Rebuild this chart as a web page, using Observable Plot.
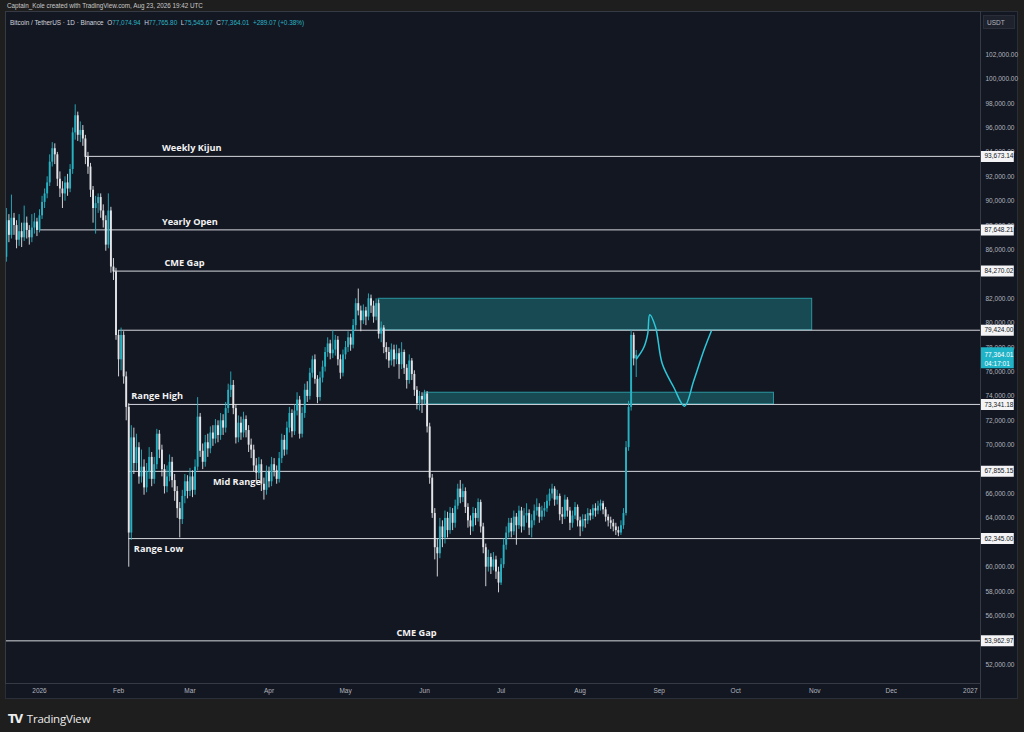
<!DOCTYPE html>
<html><head><meta charset="utf-8">
<script src="https://cdn.jsdelivr.net/npm/d3@7"></script>
<script src="https://cdn.jsdelivr.net/npm/@observablehq/plot@0.6"></script>
<style>
html,body{margin:0;padding:0;background:#1e1e1e;}
#wrap{position:relative;width:1024px;height:732px;overflow:hidden;font-family:"Liberation Sans","DejaVu Sans",sans-serif;}
#credit{position:absolute;left:7px;top:2px;font-size:6.3px;color:#c9c9c9;white-space:nowrap;}
#panel{position:absolute;left:5px;top:11px;width:1013px;height:688px;background:#131722;border:1px solid #2a2e39;box-sizing:border-box;}
#header{position:absolute;left:10px;top:19px;font-size:6.4px;color:#d1d4dc;white-space:nowrap;}
#header .v{color:#2ab3c4;}
#usdt{position:absolute;left:983px;top:15px;width:32px;height:14px;background:#1e222d;border:1px solid #2a2e39;box-sizing:border-box;font-size:6.5px;color:#b2b5be;line-height:13px;padding-left:3px;}
#chart{position:absolute;left:0;top:0;}
#vsep{position:absolute;left:980px;top:683px;width:1px;height:16px;background:#363a45;}
#logo{position:absolute;left:8px;top:709px;color:#ececec;white-space:nowrap;}
#logo .tv{font-family:"DejaVu Sans";font-weight:900;font-size:11.5px;letter-spacing:-1.5px;margin-right:5px;}
#logo .tx{font-family:"Open Sans";font-weight:500;font-size:11.5px;letter-spacing:-0.2px;}
</style></head>
<body>
<div id="wrap">
  <div id="credit">Captain_Kole created with TradingView.com, Aug 23, 2026 19:42 UTC</div>
  <div id="panel"></div>
  <div id="chart"></div>
  <div id="header">Bitcoin / TetherUS · 1D · Binance&nbsp;&nbsp;O<span class="v">77,074.94</span>&nbsp;&nbsp;H<span class="v">77,765.80</span>&nbsp;&nbsp;L<span class="v">75,545.67</span>&nbsp;&nbsp;C<span class="v">77,364.01</span>&nbsp;&nbsp;<span class="v">+289.07 (+0.38%)</span></div>
  <div id="usdt">USDT</div>
  <div id="vsep"></div>
  <div id="logo"><span class="tv">TV</span><span class="tx">TradingView</span></div>
</div>
<script>
// ---- daily candles (values in thousands USDT), first candle 2025-12-19 ----
const firstOpenK = 85.4;
const closeK = [
88.4,87.2,88.6,88.0,86.8,87.5,87.0,88.2,87.6,87.0,87.8,88.3,87.6,
88.8,89.9,90.6,91.5,93.2,94.3,93.8,91.8,91.0,90.6,91.5,91.0,92.6,
95.6,97.0,95.4,95.8,95.1,93.6,92.8,90.9,89.4,89.8,90.3,89.2,88.4,
86.4,89.2,84.6,84.2,79.0,77.0,79.0,75.6,73.1,62.8,70.6,
68.5,69.8,67.4,68.2,66.5,67.8,69.0,67.2,68.4,70.9,69.6,68.0,66.6,
67.4,68.6,67.1,66.2,64.8,63.9,65.8,67.0,66.2,67.4,66.3,68.2,
72.3,69.5,68.6,70.2,69.7,71.0,70.5,71.6,70.8,72.0,71.4,73.0,
74.5,74.9,73.0,70.6,71.8,71.0,72.1,71.2,70.0,69.6,68.3,67.7,
68.4,66.8,66.3,67.8,67.0,68.4,67.9,67.2,68.9,70.4,69.6,71.4,
72.6,71.1,72.8,73.7,70.9,72.6,74.5,74.0,75.9,77.0,75.4,73.9,
75.5,76.4,77.6,78.3,77.5,77.8,78.6,77.0,75.9,77.4,78.0,78.8,
78.2,79.8,81.6,81.0,80.2,81.0,80.5,82.0,81.4,80.5,81.6,79.1,
79.6,78.0,77.6,76.9,77.8,77.0,77.5,76.6,77.6,76.3,75.3,76.9,
75.8,74.5,73.4,74.0,73.7,74.2,71.5,67.3,64.4,61.6,61.1,63.3,
62.4,64.0,63.0,64.4,63.6,65.0,66.4,65.7,66.2,64.9,63.8,63.3,
64.4,64.0,65.3,63.3,61.6,60.0,60.8,60.0,60.6,59.6,58.7,60.2,
61.8,62.8,63.6,62.9,64.1,63.4,64.6,63.3,64.2,64.4,63.2,63.8,
64.6,64.9,64.1,64.6,64.8,65.4,66.0,66.4,65.5,65.8,64.3,64.1,
65.5,64.6,63.6,64.2,64.9,63.8,63.3,63.9,63.8,64.4,64.2,64.8,
64.6,65.0,65.2,64.7,64.1,63.8,63.6,63.3,63.0,62.8,63.4,64.4,
69.8,73.1,79.0,77.07494,77.36401];
const highK = [
89.4,88.9,90.5,89.0,88.4,88.9,88.2,89.6,88.7,88.0,88.9,89.0,88.6,
89.3,90.4,91.0,92.0,93.8,94.8,94.7,94.0,92.4,91.6,92.0,92.2,93.0,
96.0,97.9,97.3,96.5,96.2,95.4,94.0,93.1,91.2,90.4,90.6,90.6,89.7,
88.8,90.6,89.5,85.3,84.5,79.4,79.6,79.3,76.0,73.4,71.6,
71.4,70.9,70.2,69.6,68.8,68.5,69.8,69.4,69.0,71.3,71.2,70.0,68.4,
68.3,69.2,69.0,67.6,66.6,65.3,66.3,67.6,67.5,68.1,67.9,68.8,
73.9,72.6,70.1,70.8,70.9,71.5,71.6,72.1,72.0,72.6,72.5,73.5,
75.0,76.0,75.3,73.3,72.4,72.3,72.7,72.4,71.6,70.5,70.0,68.9,
69.0,68.8,67.3,68.3,68.2,69.0,68.9,68.3,69.4,70.9,70.8,71.9,
73.1,72.9,73.3,74.3,74.0,73.1,75.0,75.2,76.3,77.3,77.4,75.7,
76.0,76.9,78.0,78.8,78.6,79.4,79.0,78.9,77.4,77.8,78.5,79.3,
79.1,80.3,82.0,82.8,81.4,81.5,81.3,82.4,82.3,81.8,82.0,81.9,
80.1,79.8,78.4,78.0,78.3,78.2,78.2,77.9,78.4,77.8,76.6,77.4,
77.1,76.1,74.8,74.4,74.3,74.5,74.4,71.8,67.6,64.8,62.3,64.0,
63.8,64.6,64.5,64.9,64.8,65.5,66.8,67.1,66.8,66.5,65.2,64.2,
64.9,64.8,65.6,65.5,63.6,61.9,61.4,61.1,61.2,60.9,60.0,60.7,
62.3,63.3,64.0,64.0,64.6,64.4,65.0,64.9,64.8,65.2,64.7,64.3,
65.1,65.6,65.2,65.0,65.3,65.9,66.4,66.8,66.6,66.3,66.0,64.9,
65.9,65.7,64.9,64.6,65.3,65.1,64.1,64.3,64.3,64.8,64.7,65.1,
65.2,65.4,65.5,65.4,64.9,64.3,64.1,63.9,63.6,63.3,63.8,64.8,
70.3,73.6,79.4,79.2,77.7658];
const lowK = [
85.0,86.6,86.9,87.2,86.1,86.3,86.2,86.7,86.9,86.4,86.6,87.3,87.1,
87.4,88.5,89.4,90.2,91.2,92.8,93.0,91.2,90.3,89.4,90.0,90.4,90.7,
92.2,95.0,94.9,94.8,94.5,93.0,92.2,90.3,88.2,87.3,89.0,88.6,87.8,
85.9,86.1,84.1,83.5,78.6,75.6,76.1,75.0,72.0,60.0,62.2,
67.6,67.9,66.8,66.9,65.9,66.1,67.2,66.6,66.8,68.0,68.9,67.4,66.0,
66.1,67.0,66.5,65.4,64.0,62.4,63.5,65.2,65.6,65.8,65.7,65.9,
67.9,69.0,68.0,68.2,69.0,69.3,69.9,70.1,70.2,70.4,70.8,71.0,
72.6,73.9,72.5,70.1,70.2,70.4,70.6,70.6,69.4,68.9,67.8,67.0,
67.2,66.2,65.5,65.9,66.5,66.6,67.4,66.8,66.9,68.5,69.1,69.2,
71.0,70.6,70.8,72.4,70.5,70.6,72.2,73.5,73.7,75.5,75.0,73.4,
73.6,75.1,76.0,77.2,77.0,77.1,77.3,76.5,75.4,75.6,77.0,77.6,
77.7,77.9,79.4,80.6,79.3,79.9,79.8,80.2,80.8,80.0,80.2,78.7,
78.4,77.5,77.0,76.3,76.5,76.4,76.6,75.4,76.2,75.8,74.6,75.0,
75.3,74.0,72.9,72.8,72.6,73.3,71.0,66.8,64.0,60.6,59.2,60.7,
61.6,61.9,62.4,62.7,63.0,63.2,64.7,65.2,65.3,64.4,63.2,62.6,
62.9,63.4,63.7,62.8,61.1,58.4,59.6,59.4,59.7,59.0,57.9,58.5,
59.9,61.4,62.4,62.4,62.6,61.8,63.1,62.8,63.0,63.6,62.6,62.4,
63.4,64.2,63.6,63.8,64.1,64.5,65.0,65.6,65.0,65.1,63.8,63.5,
63.9,64.1,63.0,63.2,63.9,63.3,62.5,62.9,63.2,63.5,63.8,63.9,
64.1,64.3,64.6,64.3,63.7,63.3,63.1,62.9,62.6,62.5,62.6,63.1,
64.2,69.5,72.8,76.5,75.54567];

// ---- horizontal levels ----
const levelNames  = ["Weekly Kijun","Yearly Open","CME Gap","","Range High","Mid Range","Range Low","CME Gap"];
const levelValues = [93673.14, 87648.21, 84270.02, 79424.00, 73341.18, 67855.15, 62345.00, 53962.97];
const levelStarts = ["2026-01-19","2026-01-01","2026-01-30","2026-02-01","2026-02-05","2026-02-05","2026-02-05","2025-12-18T16:00Z"];
const labelDates  = ["2026-02-18","2026-02-18","2026-02-19",null,"2026-02-06","2026-03-10","2026-02-07","2026-05-21"];
const labelSides  = ["above","above","above",null,"above","below","below","above"];

// ---- zones ----
const zoneStarts = ["2026-05-14","2026-06-01"];
const zoneEnds   = ["2026-10-31","2026-10-16"];
const zoneLows   = [79424, 73341.18];
const zoneHighs  = [82000, 74300];

// ---- projected path ----
const pathDates  = ["2026-08-23T03:00Z","2026-08-26T00:00Z","2026-08-27T12:00Z","2026-08-28T07:00Z","2026-08-30T14:00Z","2026-09-02T05:00Z","2026-09-06T17:00Z","2026-09-10T22:00Z","2026-09-14T14:00Z","2026-09-18T12:00Z","2026-09-21T10:00Z"];
const pathPrices = [77080, 78030, 79130, 80690, 79670, 76670, 74750, 73200, 75300, 77760, 79340];

// ---- axes (price ticks hidden behind level tags are left out, as on the reference) ----
const yTicks = [52000,56000,58000,60000,64000,66000,70000,72000,74000,76000,78000,80000,82000,86000,88000,90000,92000,94000,96000,98000,100000,102000];
const xTickDates  = ["2026-01-01","2026-02-01","2026-03-01","2026-04-01","2026-05-01","2026-06-01","2026-07-01","2026-08-01","2026-09-01","2026-10-01","2026-11-01","2026-12-01","2027-01-01"];
const xTickLabels = ["2026","Feb","Mar","Apr","May","Jun","Jul","Aug","Sep","Oct","Nov","Dec","2027"];

const lastPrice = 77364.01;
const countdown = "04:17:01";
// price-scale tag column (time span right of the last visible date)
const tagSpan = ["2027-01-05T09:00Z", "2027-01-18T06:00Z"];

// ---- build tables ----
const candleStart = new Date("2025-12-19T00:00:00Z");
const candles = closeK.map((c, i) => ({
  date: d3.utcDay.offset(candleStart, i),
  open: (i ? closeK[i - 1] : firstOpenK) * 1000,
  close: c * 1000,
  high: highK[i] * 1000,
  low: lowK[i] * 1000
}));
const xDomain = [new Date("2025-12-18T16:00:00Z"), new Date("2027-01-05T00:00:00Z")];
const levels = levelValues.map((v, i) => ({
  value: v, name: levelNames[i], start: new Date(levelStarts[i]),
  labelDate: labelDates[i] ? new Date(labelDates[i]) : null, side: labelSides[i]
}));
const zones = zoneStarts.map((s, i) => ({x1: new Date(s), x2: new Date(zoneEnds[i]), y1: zoneLows[i], y2: zoneHighs[i]}));
const path = pathDates.map((d, i) => ({date: new Date(d), price: pathPrices[i]}));
const tickMap = new Map(xTickDates.map((d, i) => [+new Date(d), xTickLabels[i]]));
const tagX1 = new Date(tagSpan[0]), tagX2 = new Date(tagSpan[1]);

const UP = "#27b2c3", DOWN = "#e3e4e8", CYAN = "#2cc7d9";
const fmt = d3.format(",.2f");

const svg = Plot.plot({
  width: 1024, height: 700,
  marginLeft: 5, marginRight: 44, marginTop: 11, marginBottom: 17,
  style: {background: "transparent", fontFamily: "Liberation Sans, DejaVu Sans, sans-serif", overflow: "visible"},
  x: {type: "utc", domain: xDomain},
  y: {domain: [50467, 105549]},
  marks: [
    Plot.rect(zones, {x1: "x1", x2: "x2", y1: "y1", y2: "y2", fill: "#174a52", stroke: "#2a97a2", strokeWidth: 1}),
    Plot.ruleY(levels, {y: "value", x1: "start", x2: () => xDomain[1], stroke: "#d6d8de", strokeWidth: 1}),
    Plot.ruleX(candles, {x: "date", y1: "low", y2: "high", stroke: d => d.close >= d.open ? UP : DOWN, strokeWidth: 0.9}),
    Plot.ruleX(candles, {x: "date", y1: "open", y2: "close", stroke: d => d.close >= d.open ? UP : DOWN, strokeWidth: 1.9}),
    Plot.line(path, {x: "date", y: "price", curve: "catmull-rom", stroke: CYAN, strokeWidth: 1.5}),
    Plot.text(levels.filter(d => d.side === "above"), {x: "labelDate", y: "value", text: "name", dy: -8, textAnchor: "start", fill: "#f2f2f2", fontWeight: "bold", fontSize: 9.2, fontFamily: "Open Sans"}),
    Plot.text(levels.filter(d => d.side === "below"), {x: "labelDate", y: "value", text: "name", dy: 10.5, textAnchor: "start", fill: "#f2f2f2", fontWeight: "bold", fontSize: 9.2, fontFamily: "Open Sans"}),
    Plot.frame({stroke: "#363a45"}),
    Plot.axisY(yTicks, {anchor: "right", tickSize: 0, tickPadding: 5, tickFormat: fmt, fill: "#b2b5be", fontSize: 6.5, label: null}),
    Plot.axisX(xTickDates.map(d => new Date(d)), {anchor: "bottom", tickSize: 0, tickPadding: 5, tickFormat: d => tickMap.get(+d), fill: "#b2b5be", fontSize: 6.5, label: null}),
    // level tags on the price scale
    Plot.ruleY(levels, {y: "value", x1: () => tagX1, x2: () => tagX2, stroke: "#f4f4f6", strokeWidth: 11}),
    Plot.text(levels, {y: "value", frameAnchor: "right", dx: 4, textAnchor: "start", text: d => fmt(d.value), fill: "#131722", fontSize: 6.5}),
    // last price tag
    Plot.ruleY([lastPrice], {y: d => d, x1: () => tagX1, x2: () => tagX2, dy: 2.5, stroke: "#1fb3c7", strokeWidth: 21}),
    Plot.text([lastPrice], {y: d => d, frameAnchor: "right", dx: 4, dy: 3, textAnchor: "start", text: d => fmt(d) + "\n" + countdown, lineHeight: 1.5, fill: "#ffffff", fontSize: 6.5})
  ]
});
document.getElementById("chart").append(svg);
</script>
</body></html>
